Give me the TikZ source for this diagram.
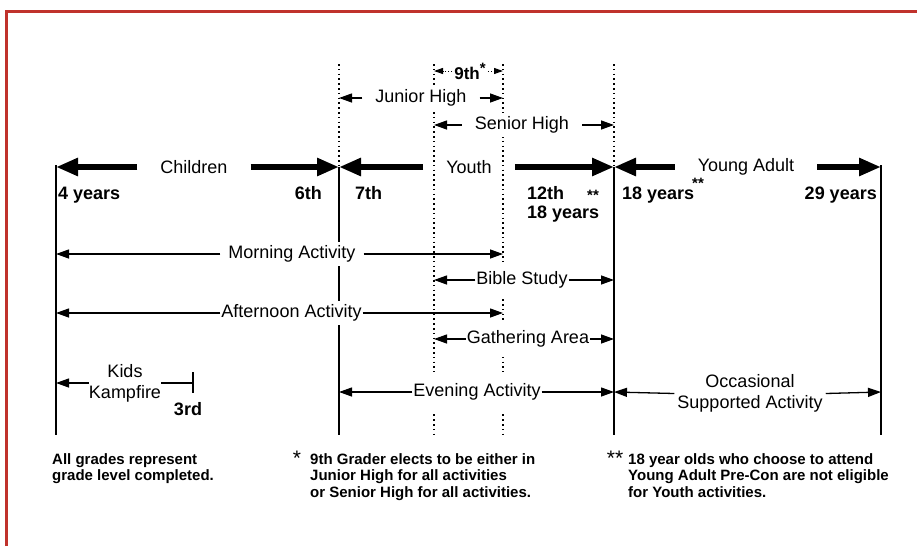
\documentclass[tikz,border=0pt]{standalone}
\usepackage{fontspec}
\setmainfont{Liberation Sans}
\usetikzlibrary{arrows.meta}
\definecolor{framered}{RGB}{192,50,44}
\begin{document}
\begin{tikzpicture}[x=1pt,y=-1pt,
 solidv/.style={line width=2pt},
 dotv/.style={line width=1.6pt, dash pattern=on 1.6pt off 3.2pt},
 bigarr/.style={line width=6pt, -{Triangle[length=22pt,width=17pt]}},
 thinarr/.style={line width=1.3pt, -{Triangle[length=13pt,width=9pt]}},
 dotarr/.style={line width=1pt, dash pattern=on 1pt off 2pt, -{Triangle[length=9pt,width=6pt]}},
 lbl/.style={font=\fontsize{18}{21}\selectfont, fill=white, inner xsep=1pt, inner ysep=4pt, align=center},
 bigl/.style={font=\fontsize{18}{21}\selectfont, inner xsep=23pt, inner ysep=2pt},
 yr/.style={font=\bfseries\fontsize{18}{20}\selectfont, inner sep=0pt},
 smallstar/.style={font=\bfseries\fontsize{15}{15}\selectfont, inner sep=0pt},
 note/.style={font=\bfseries\fontsize{15}{16.5}\selectfont, align=left, inner sep=0pt, anchor=north west},
 notestar/.style={font=\fontsize{21}{21}\selectfont, inner sep=0pt}
]
\useasboundingbox (0,0) rectangle (917,546);
\draw[framered, line width=2.5pt, line join=miter] (6.5,546) -- (6.5,11.5) -- (917,11.5);

% column coordinates
\coordinate (s1t) at (56,165);  \coordinate (s1b) at (56,435);
\coordinate (s2d) at (339,64);  \coordinate (s2t) at (339,167); \coordinate (s2b) at (339,435);
\coordinate (d1t) at (434,64);  \coordinate (d1b) at (434,435);
\coordinate (d2t) at (503,64);  \coordinate (d2b) at (503,435);
\coordinate (s3d) at (614,64);  \coordinate (s3t) at (614,167); \coordinate (s3b) at (614,435);
\coordinate (s4t) at (881,165); \coordinate (s4b) at (881,435);

% vertical lines
\draw[solidv] (s1t) -- (s1b);
\draw[solidv] (s2t) -- (s2b);
\draw[solidv] (s3t) -- (s3b);
\draw[solidv] (s4t) -- (s4b);
\draw[dotv] (s2d) -- (s2t);
\draw[dotv] (s3d) -- (s3t);
\draw[dotv] (d1t) -- (d1b);
\draw[dotv] (d2t) -- (d2b);

% 9th row
\coordinate (n9l) at (434,71); \coordinate (n9r) at (503,71);
\node[font=\bfseries\fontsize{17}{17}\selectfont, fill=white, inner xsep=2pt, inner ysep=1pt] (ninth) at (470,71) {9th\raisebox{6pt}{\fontsize{15}{15}\selectfont *}};
\draw[dotarr] (ninth.west) -- (n9l);
\draw[dotarr] (ninth.east) -- (n9r);

% Junior High
\coordinate (jhl) at (339,98); \coordinate (jhr) at (503,98);
\node[lbl, inner xsep=13pt] (jh) at (421,98) {Junior High};
\draw[thinarr] (jh.west) -- (jhl);
\draw[thinarr] (jh.east) -- (jhr);

% Senior High
\coordinate (shl) at (434,125); \coordinate (shr) at (614,125);
\node[lbl, inner xsep=13pt] (sh) at (522,125) {Senior High};
\draw[thinarr] (sh.west) -- (shl);
\draw[thinarr] (sh.east) -- (shr);

% big arrows
\coordinate (chl) at (56,167); \coordinate (chr) at (339,167);
\coordinate (yol) at (339,167); \coordinate (yor) at (614,167);
\coordinate (yal) at (614,167); \coordinate (yar) at (881,167);
\node[bigl] (children) at (194,167) {Children};
\node[bigl] (youth) at (469,167) {Youth};
\node[bigl] (yadult) at (746,167) {Young Adult};
\draw[bigarr] (children.west) -- (chl);
\draw[bigarr] (children.east) -- (chr);
\draw[bigarr] (youth.west) -- (yol);
\draw[bigarr] (youth.east) -- (yor);
\draw[bigarr] (yadult.west) -- (yal);
\draw[bigarr] (yadult.east) -- (yar);

% age / grade labels
\node[yr, anchor=base west] (y4) at (58,199.5) {4 years};
\node[yr, anchor=base east] (g6) at (322,199.5) {6th};
\node[yr, anchor=base west] (g7) at (355,199.5) {7th};
\node[yr, anchor=base west] (g12) at (527,199.5) {12th};
\node[yr, anchor=base west] (y18a) at (527,218.5) {18 years};
\node[smallstar] (st12) at (593,195) {**};
\node[yr, anchor=base west] (y18b) at (622,199.5) {18 years};
\node[smallstar] (st18) at (698,183) {**};
\node[yr, anchor=base east] (y29) at (877,199.5) {29 years};

% Morning Activity
\coordinate (mal) at (56,254); \coordinate (mar) at (503,254);
\node[lbl, inner xsep=8pt] (morning) at (292,254) {Morning Activity};
\draw[thinarr] (morning.west) -- (mal);
\draw[thinarr] (morning.east) -- (mar);

% Bible Study
\coordinate (bsl) at (434,280); \coordinate (bsr) at (614,280);
\node[lbl, inner ysep=8pt] (bible) at (522,280) {Bible Study};
\draw[thinarr] (bible.west) -- (bsl);
\draw[thinarr] (bible.east) -- (bsr);

% Afternoon Activity
\coordinate (aal) at (56,313); \coordinate (aar) at (503,313);
\node[lbl] (afternoon) at (291.5,313) {Afternoon Activity};
\draw[thinarr] (afternoon.west) -- (aal);
\draw[thinarr] (afternoon.east) -- (aar);

% Gathering Area
\coordinate (gal) at (434,339); \coordinate (gar) at (614,339);
\node[lbl, inner ysep=9pt] (gathering) at (528,339) {Gathering Area};
\draw[thinarr] (gathering.west) -- (gal);
\draw[thinarr] (gathering.east) -- (gar);

% Kids Kampfire
\coordinate (kkl) at (56,383); \coordinate (kkr) at (193,383);
\coordinate (kbt) at (193,372); \coordinate (kbb) at (193,393);
\node[lbl, inner xsep=0pt, inner ysep=0pt] (kids) at (125,383) {Kids\\Kampfire};
\draw[thinarr] (kids.west) -- (kkl);
\draw[line width=1.3pt] (kids.east) -- (kkr);
\draw[line width=1.6pt] (kbt) -- (kbb);
\node[yr, anchor=base] (g3) at (188,415.5) {3rd};

% Evening Activity
\coordinate (eal) at (339,392); \coordinate (ear) at (614,392);
\node[lbl, inner ysep=12pt] (evening) at (477,392) {Evening Activity};
\draw[thinarr] (evening.west) -- (eal);
\draw[thinarr] (evening.east) -- (ear);

% Occasional Supported Activity
\coordinate (osl) at (614,392); \coordinate (osr) at (881,392);
\node[lbl, inner xsep=3pt, inner ysep=0pt] (occasional) at (750,393.5) {Occasional\\Supported Activity};
\draw[thinarr] (occasional.west) -- (osl);
\draw[thinarr] (occasional.east) -- (osr);

% notes
\node[note] (note1) at (52,453) {All grades represent\\grade level completed.};
\node[notestar] (ns1) at (297,458) {*};
\node[note] (note2) at (310,453) {9th Grader elects to be either in\\Junior High for all activities\\or Senior High for all activities.};
\node[notestar] (ns2) at (615,458) {**};
\node[note] (note3) at (628,453) {18 year olds who choose to attend\\Young Adult Pre-Con are not eligible\\for Youth activities.};
\end{tikzpicture}
\end{document}
